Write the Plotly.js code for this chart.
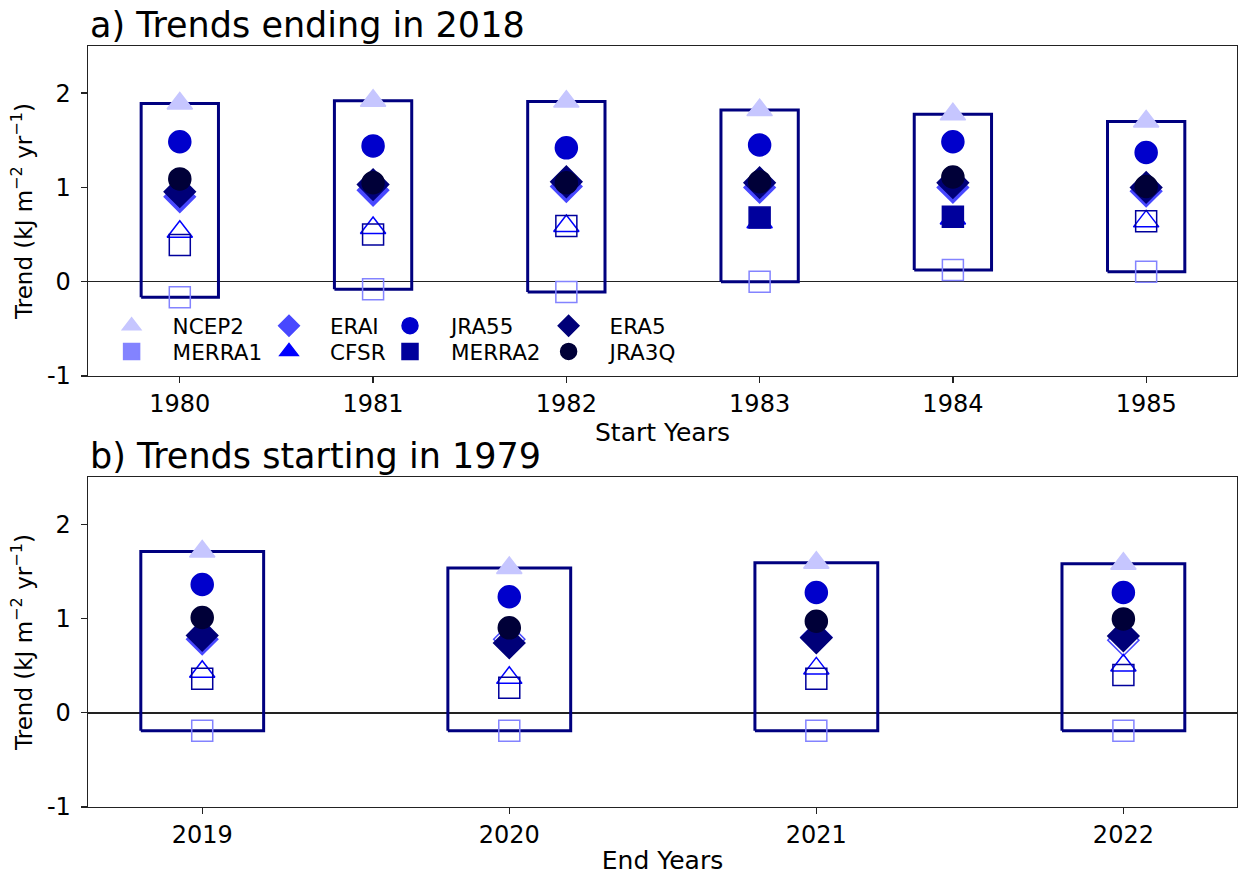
<!DOCTYPE html>
<html><head><meta charset="utf-8">
<script src="https://cdn.plot.ly/plotly-3.0.1.min.js"></script>
<style>html,body{margin:0;padding:0;background:#fff}#chart{width:1241px;height:878px}</style>
</head><body><div id="chart"></div>
<script>
// ---------- data ----------
const startYears = [1980, 1981, 1982, 1983, 1984, 1985];
const endYears = [2019, 2020, 2021, 2022];
const seriesNames = ['NCEP2', 'MERRA1', 'ERAI', 'CFSR', 'JRA55', 'MERRA2', 'ERA5', 'JRA3Q'];
const yTickVals = [-1, 0, 1, 2];
const yTickText = ['-1', '0', '1', '2'];

// a) Trends ending in 2018 (kJ m-2 yr-1), by start year
const ncep2A  = [1.89, 1.92, 1.91, 1.82, 1.775, 1.70];
const merra1A = [-0.165, -0.08, -0.11, 0.00, 0.125, 0.105];
const eraiA   = [0.90, 0.97, 1.01, 1.00, 1.00, 0.96];
const cfsrA   = [0.53, 0.57, 0.59, 0.63, 0.67, 0.64];
const jra55A  = [1.485, 1.44, 1.42, 1.45, 1.485, 1.37];
const merra2A = [0.39, 0.50, 0.59, 0.68, 0.69, 0.64];
const era5A   = [0.955, 1.03, 1.06, 1.05, 1.05, 1.00];
const jra3qA  = [1.09, 1.05, 1.05, 1.06, 1.11, 1.01];

// filled (1) = significant, open (0)
const ncep2FillA  = [1, 1, 1, 1, 1, 1];
const merra1FillA = [0, 0, 0, 0, 0, 0];
const eraiFillA   = [1, 1, 1, 1, 1, 1];
const cfsrFillA   = [0, 0, 0, 0, 0, 0];
const jra55FillA  = [1, 1, 1, 1, 1, 1];
const merra2FillA = [0, 0, 0, 1, 1, 0];
const era5FillA   = [1, 1, 1, 1, 1, 1];
const jra3qFillA  = [1, 1, 1, 1, 1, 1];

// b) Trends starting in 1979, by end year
const ncep2B  = [1.71, 1.535, 1.59, 1.58];
const merra1B = [-0.19, -0.19, -0.19, -0.19];
const eraiB   = [0.78, 0.78, 0.80, 0.77];
const cfsrB   = [0.435, 0.37, 0.47, 0.50];
const jra55B  = [1.36, 1.23, 1.275, 1.275];
const merra2B = [0.36, 0.265, 0.36, 0.40];
const era5B   = [0.82, 0.74, 0.795, 0.815];
const jra3qB  = [1.01, 0.90, 0.97, 0.995];

const ncep2FillB  = [1, 1, 1, 1];
const merra1FillB = [0, 0, 0, 0];
const eraiFillB   = [1, 0, 1, 0];
const cfsrFillB   = [0, 0, 0, 0];
const jra55FillB  = [1, 1, 1, 1];
const merra2FillB = [0, 0, 0, 0];
const era5FillB   = [1, 1, 1, 1];
const jra3qFillB  = [1, 1, 1, 1];

// ---------- styles ----------
const colors  = ['#c6c6ff', '#8383ff', '#4848ff', '#0000ff', '#0000cc', '#00009c', '#000078', '#000038'];
const symbols = ['triangle-up', 'square', 'diamond', 'triangle-up', 'circle', 'square', 'diamond', 'circle'];
const sizes   = [22, 21, 24, 22, 22, 21, 24, 22];
const FONT = 'DejaVu Sans';

const valsA = [ncep2A, merra1A, eraiA, cfsrA, jra55A, merra2A, era5A, jra3qA];
const fillA = [ncep2FillA, merra1FillA, eraiFillA, cfsrFillA, jra55FillA, merra2FillA, era5FillA, jra3qFillA];
const valsB = [ncep2B, merra1B, eraiB, cfsrB, jra55B, merra2B, era5B, jra3qB];
const fillB = [ncep2FillB, merra1FillB, eraiFillB, cfsrFillB, jra55FillB, merra2FillB, era5FillB, jra3qFillB];

const traces = [];
const HALF = 0.2;

function boxTrace(years, vals, xa, ya) {
  const xs = [], ys = [];
  years.forEach((yr, i) => {
    const col = vals.map(v => v[i]);
    const lo = Math.min(...col), hi = Math.max(...col);
    xs.push(yr - HALF, yr + HALF, yr + HALF, yr - HALF, yr - HALF, null);
    ys.push(lo, lo, hi, hi, lo, null);
  });
  return {x: xs, y: ys, xaxis: xa, yaxis: ya, mode: 'lines', type: 'scatter',
          line: {color: '#00007f', width: 3}, showlegend: false, hoverinfo: 'skip'};
}
traces.push(boxTrace(startYears, valsA, 'x', 'y'));
traces.push(boxTrace(endYears, valsB, 'x2', 'y2'));

function markerTraces(years, vals, fills, xa, ya) {
  seriesNames.forEach((name, s) => {
    traces.push({
      x: years, y: vals[s], xaxis: xa, yaxis: ya, type: 'scatter', mode: 'markers',
      name: name, showlegend: false,
      marker: {
        symbol: fills[s].map(f => f ? symbols[s] : symbols[s] + '-open'),
        size: sizes[s], color: colors[s],
        line: {color: colors[s], width: 1.5}
      }
    });
  });
}
markerTraces(startYears, valsA, fillA, 'x', 'y');
markerTraces(endYears, valsB, fillB, 'x2', 'y2');

// legend entries (one legend per entry to reproduce the 4x2 column layout)
const legX = [131.6, 131.6, 289, 289, 410, 410, 568.6, 568.6];
const legY = [325.7, 351.4, 325.7, 351.4, 325.7, 351.4, 325.7, 351.4];
const PL = 88, PW = 1149, PB = 807, PH = 761;
const ITEMW = 72;
const layoutLegends = {};
seriesNames.forEach((name, s) => {
  const key = s === 0 ? 'legend' : 'legend' + (s + 1);
  traces.push({
    x: [null], y: [null], xaxis: 'x', yaxis: 'y', type: 'scatter', mode: 'markers',
    name: name, legend: key, showlegend: true,
    marker: {symbol: symbols[s], size: sizes[s], color: colors[s], line: {color: colors[s], width: 1.5}}
  });
  layoutLegends[key] = {
    x: (legX[s] - (ITEMW / 2 + 5) - PL) / PW, y: (PB - legY[s]) / PH, xanchor: 'left', yanchor: 'middle',
    bgcolor: 'rgba(0,0,0,0)', borderwidth: 0, itemwidth: ITEMW,
    font: {family: FONT, size: 21.5, color: '#000'}
  };
});

const axisCommon = {
  showline: true, mirror: true, linecolor: '#222', linewidth: 1.3,
  ticks: 'outside', ticklen: 6, tickwidth: 1.3, tickcolor: '#222',
  showgrid: false, tickfont: {family: FONT, size: 24, color: '#000'}
};
const yTitle = {text: 'Trend (kJ m<sup>−2</sup> yr<sup>−1</sup>)', font: {family: FONT, size: 23, color: '#000'}};

const layout = Object.assign({
  width: 1241, height: 878,
  margin: {l: 88, r: 4, t: 46, b: 71},
  paper_bgcolor: '#fff', plot_bgcolor: '#fff',
  font: {family: FONT, color: '#000'},
  xaxis: Object.assign({}, axisCommon, {
    domain: [0, 1], anchor: 'y', range: [1979.525, 1985.47], zeroline: false,
    tickvals: startYears, ticktext: startYears.map(String),
    title: {text: 'Start Years', font: {family: FONT, size: 25, color: '#000'}, standoff: 3}
  }),
  yaxis: Object.assign({}, axisCommon, {
    domain: [0.5664, 1], anchor: 'x', range: [-1, 2.5],
    tickvals: yTickVals, ticktext: yTickText, ticklabelstandoff: 5,
    zeroline: true, zerolinecolor: '#222', zerolinewidth: 1.6,
    title: Object.assign({standoff: 8}, yTitle)
  }),
  xaxis2: Object.assign({}, axisCommon, {
    domain: [0, 1], anchor: 'y2', range: [2018.628, 2022.37], zeroline: false,
    tickvals: endYears, ticktext: endYears.map(String),
    title: {text: 'End Years', font: {family: FONT, size: 25, color: '#000'}, standoff: 3}
  }),
  yaxis2: Object.assign({}, axisCommon, {
    domain: [0, 0.4336], anchor: 'x2', range: [-1, 2.5],
    tickvals: yTickVals, ticktext: yTickText, ticklabelstandoff: 5,
    zeroline: true, zerolinecolor: '#222', zerolinewidth: 1.6,
    title: Object.assign({standoff: 8}, yTitle)
  }),
  annotations: [
    {text: 'a) Trends ending in 2018', xref: 'paper', yref: 'paper', x: 0, y: 1,
     xanchor: 'left', yanchor: 'bottom', showarrow: false, yshift: -1,
     font: {family: FONT, size: 35, color: '#000'}},
    {text: 'b) Trends starting in 1979', xref: 'paper', yref: 'paper', x: 0, y: 0.4336,
     xanchor: 'left', yanchor: 'bottom', showarrow: false, yshift: -1,
     font: {family: FONT, size: 35, color: '#000'}}
  ]
}, layoutLegends);

Plotly.newPlot('chart', traces, layout, {displayModeBar: false, staticPlot: true});
</script>
</body></html>
